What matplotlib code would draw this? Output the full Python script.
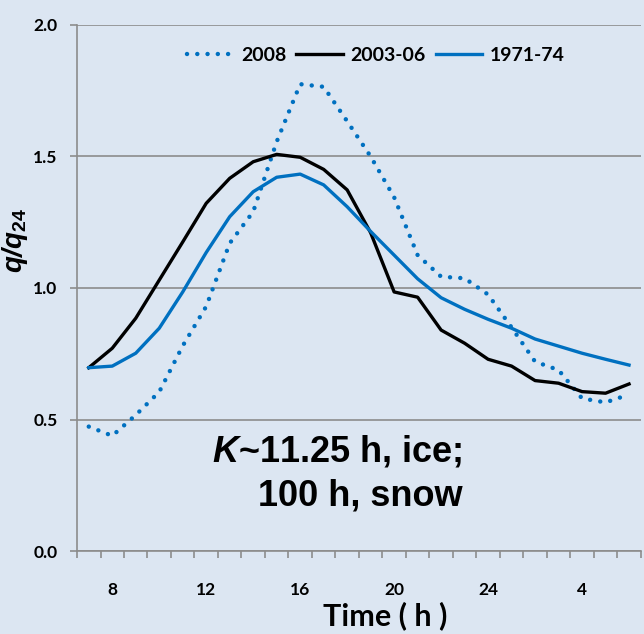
import matplotlib.pyplot as plt
import numpy as np

# hourly categories, 7 h through 6 h next morning
hours = [7, 8, 9, 10, 11, 12, 13, 14, 15, 16, 17, 18, 19, 20, 21, 22, 23, 24,
         1, 2, 3, 4, 5, 6]
tick_hours = ["8", "12", "16", "20", "24", "4"]

q_2008 = [0.473, 0.438, 0.517, 0.605, 0.78, 0.93, 1.17, 1.29, 1.556, 1.775,
          1.765, 1.634, 1.50, 1.345, 1.125, 1.043, 1.037, 0.975, 0.85, 0.72,
          0.688, 0.58, 0.565, 0.595]
q_2003_06 = [0.697, 0.771, 0.885, 1.03, 1.175, 1.322, 1.417, 1.48, 1.508, 1.497,
             1.451, 1.373, 1.21, 0.985, 0.965, 0.84, 0.79, 0.729, 0.703, 0.648,
             0.638, 0.606, 0.600, 0.635]
q_1971_74 = [0.697, 0.703, 0.752, 0.847, 0.985, 1.135, 1.271, 1.366, 1.421, 1.433,
             1.392, 1.309, 1.215, 1.125, 1.035, 0.963, 0.919, 0.881, 0.847, 0.806,
             0.779, 0.752, 0.729, 0.707]

bg = "#DCE6F2"
blue = "#0070C0"

plt.rcParams["font.family"] = ["Lato", "DejaVu Sans"]
plt.rcParams["font.weight"] = "bold"
plt.rcParams["mathtext.fontset"] = "custom"
plt.rcParams["mathtext.it"] = "Liberation Sans:italic:bold"
plt.rcParams["mathtext.rm"] = "Liberation Sans:bold"

fig = plt.figure(figsize=(6.44, 6.34), dpi=100, facecolor=bg)
ax = fig.add_axes([0.1196, 0.1309, 0.8754, 0.8297])
ax.set_facecolor(bg)

x = np.arange(len(hours))
ax.plot(x, q_2008, color=blue, lw=3.2, linestyle=(0, (0.01, 2.3)),
        dash_capstyle="round", label="2008")
ax.plot(x, q_2003_06, color="black", lw=2.4, label="2003-06")
ax.plot(x, q_1971_74, color=blue, lw=2.4, label="1971-74")

ax.set_xlim(-0.5, len(hours) - 0.5)
ax.set_ylim(0, 2.0)
ax.set_yticks([0, 0.5, 1.0, 1.5, 2.0])
ax.set_yticklabels(["0.0", "0.5", "1.0", "1.5", "2.0"])
ax.grid(axis="y", color="#8C8C8C", lw=1.2)
ax.set_axisbelow(True)

# labels sit at category centres, tick marks on category boundaries
label_pos = [hours.index(int(h)) for h in tick_hours]
ax.set_xticks(label_pos)
ax.set_xticklabels(tick_hours)
ax.set_xticks(np.arange(len(hours) + 1) - 0.5, minor=True)
ax.tick_params(axis="x", which="major", length=0, pad=22, labelsize=12.5)
ax.tick_params(axis="x", which="minor", length=5, width=1.2, color="#8C8C8C",
               direction="out")
ax.tick_params(axis="y", length=5, width=1.2, color="#8C8C8C", pad=9,
               labelsize=12.5)

for side in ("top", "right"):
    ax.spines[side].set_visible(False)
for side in ("left", "bottom"):
    ax.spines[side].set_color("#8C8C8C")
    ax.spines[side].set_linewidth(1.2)

fig.text(385 / 644, 1 - 616 / 634, "Time ( h )", ha="center", va="center",
         fontsize=22, fontweight="bold")
fig.text(15 / 644, 1 - 240 / 634, r"$q$/$q_{\mathrm{24}}$", ha="center",
         va="center", rotation=90, fontsize=20, family="Liberation Sans",
         style="italic", fontweight="bold")

ax.text(15.93, 0.445, "$K$~11.25 h, ice;\n100 h, snow", ha="right", va="top",
        multialignment="right", fontsize=26, fontweight="bold",
        family="Liberation Sans", linespacing=1.33)

ax.legend(loc="center", bbox_to_anchor=(0.530, 0.942), ncol=3, frameon=False,
          fontsize=14, handlelength=2.4, handletextpad=0.4, columnspacing=0.5)

fig.savefig("out.png", dpi=100, facecolor=bg)
